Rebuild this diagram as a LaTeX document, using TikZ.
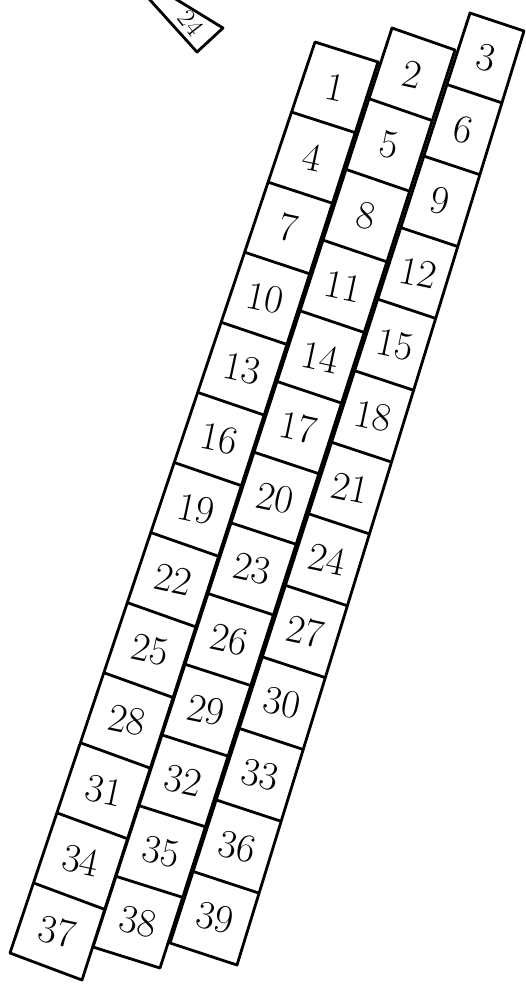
\documentclass[tikz,border=0pt]{standalone}
\usepackage{fontspec}
\setmainfont{Latin Modern Roman}
\usetikzlibrary{calc}

\begin{document}
\begin{tikzpicture}[x=1pt, y=1pt, line join=round,
    strip/.style={line width=2.8pt, black},
    num/.style={rotate=-12, inner sep=0pt, font=\fontsize{40pt}{40pt}\selectfont}]
    \useasboundingbox (0,0) rectangle (526,-988);
    \clip (0,0) rectangle (526,-988);
    % Corners of the three strips
    \coordinate (a1) at (315,-42);  \coordinate (b1) at (378,-62);
    \coordinate (c1) at (10,-953);  \coordinate (d1) at (82,-980);
    \coordinate (a2) at (392,-28);  \coordinate (b2) at (455,-50);
    \coordinate (c2) at (93,-947);  \coordinate (d2) at (160,-968);
    \coordinate (a3) at (470,-13);  \coordinate (b3) at (524,-31);
    \coordinate (c3) at (170,-943); \coordinate (d3) at (237,-965);
    % Strips, cells and numbers
    \foreach \s in {1,2,3} {
        \draw[strip] (a\s) -- (b\s) -- (d\s) -- (c\s) -- cycle;
        \foreach \k in {1,...,12}
            \draw[strip] ($(a\s)!{\k/13}!(c\s)$) -- ($(b\s)!{\k/13}!(d\s)$);
        \foreach \k in {0,...,12} {
            \pgfmathtruncatemacro{\n}{3*\k+\s}
            \coordinate (l) at ($(a\s)!{(\k+0.5)/13}!(c\s)$);
            \coordinate (r) at ($(b\s)!{(\k+0.5)/13}!(d\s)$);
            \node[num] (n\n) at ($(l)!0.5!(r)$) {\n};
        }
    }
    % Tag in the corner
    \draw[strip] (141,10) -- (197,-52) -- (223,-28) -- (161,10);
    \node[num, rotate=-40, font=\fontsize{26pt}{26pt}\selectfont] (tag) at (191,-23) {24};
\end{tikzpicture}
\end{document}
